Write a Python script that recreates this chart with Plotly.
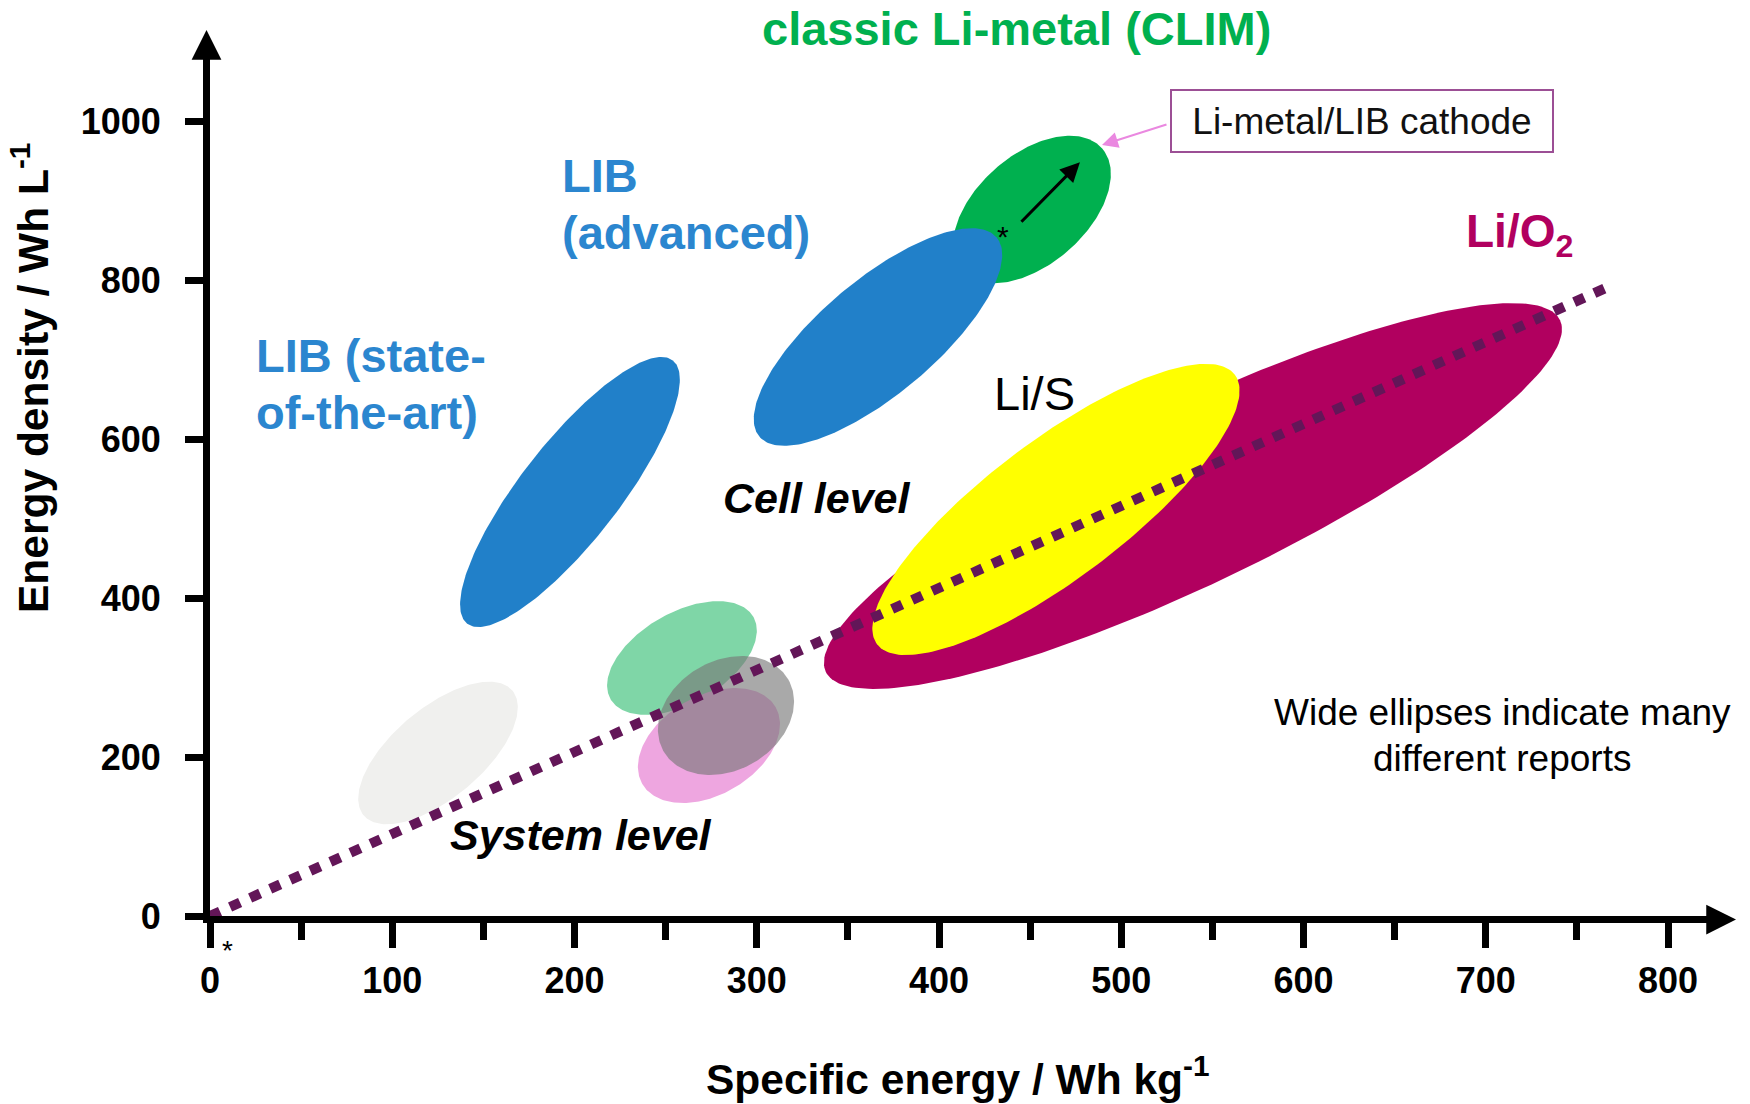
import numpy as np
import plotly.graph_objects as go

# ---------------- data ----------------
x_ticks = [0, 100, 200, 300, 400, 500, 600, 700, 800]          # specific energy / Wh kg-1
y_ticks = [0, 200, 400, 600, 800, 1000]                        # energy density / Wh L-1

# Performance regions (ellipses): ends of the long axis and width ratio
region_names = ["Li/O2 (cell)", "Li/S (cell)", "LIB state-of-the-art (cell)",
                "CLIM (cell)", "LIB advanced (cell)",
                "LIB (system)", "CLIM (system)", "Li/O2 (system)", "Li/S (system)"]
lo_energy = [337.9, 366.0, 141.1, 412.5, 301.4, 84.3, 219.8, 237.2, 248.9]
lo_density = [307.3, 342.1, 368.1, 812.7, 603.6, 126.7, 272.9, 166.2, 207.2]
hi_energy = [740.7, 562.3, 253.9, 489.5, 431.6, 165.9, 298.1, 310.3, 317.3]
hi_density = [750.2, 681.5, 699.5, 966.3, 854.3, 283.8, 376.7, 263.1, 297.7]
width_ratio = [0.216, 0.308, 0.295, 0.59, 0.37, 0.464, 0.55, 0.642, 0.761]

# dotted guide line
guide_energy = [0, 768.0]
guide_density = [0, 793.0]

# CLIM improvement arrow (from -> to)
clim_from_energy, clim_from_density = 444.4, 872.1
clim_to_energy, clim_to_density = 477.3, 948.9

# ---------------- styles ----------------
region_colors = ["#b1005f", "#ffff00", "#2180c9", "#00b04f", "#2180c9",
                 "#f0f0ee", "#7fd6a7", "#eea6e0", "rgba(118,118,118,0.63)"]
FONT = "Liberation Sans"
BLUE_TXT = "#2b86cf"

W, H = 1750, 1104
ML, MT, PW, PH = 210, 55, 1502, 861
X_RANGE = [0, 824.1]
Y_RANGE = [0, 1084.0]
kx = PW / (X_RANGE[1] - X_RANGE[0])
ky = PH / (Y_RANGE[1] - Y_RANGE[0])
LW = 7  # axis line width

fig = go.Figure()

t = np.linspace(0, 2 * np.pi, 241)
for name, le, ld, he, hd, r, col in zip(region_names, lo_energy, lo_density,
                                         hi_energy, hi_density, width_ratio, region_colors):
    cx, cy = (le + he) / 2, (ld + hd) / 2
    ux, uy = (he - le) / 2, (hd - ld) / 2
    Ux, Uy = ux * kx, uy * ky
    vx, vy = -r * Uy / kx, r * Ux / ky
    xs = cx + ux * np.cos(t) + vx * np.sin(t)
    ys = cy + uy * np.cos(t) + vy * np.sin(t)
    fig.add_trace(go.Scatter(x=xs, y=ys, mode="lines", fill="toself", fillcolor=col,
                             line=dict(width=0), name=name, hoverinfo="skip"))

fig.add_trace(go.Scatter(x=guide_energy, y=guide_density, mode="lines",
                         line=dict(color="#631658", width=10, dash="11px,11px"),
                         hoverinfo="skip"))

ann = []


def label(text, x, y, size, color="black", weight="normal", style="normal", xanchor="center",
          yshift=0, ref="x"):
    ann.append(dict(text=text, x=x, y=y, xref="x" if ref == "x" else "paper",
                    yref="y" if ref == "x" else "paper", showarrow=False,
                    xanchor=xanchor, yanchor="middle", yshift=yshift,
                    font=dict(family=FONT, size=size, color=color, weight=weight, style=style)))


def px2paper(px, py):
    return (px - ML) / PW, (MT + PH - py) / PH


tx, ty = px2paper(1016.5, 28)
label("classic Li-metal (CLIM)", tx, ty, 47, "#00b04f", "bold", ref="paper")
label("LIB", 192.0, 932.9, 47, BLUE_TXT, "bold", xanchor="left")
label("(advanced)", 192.0, 861.1, 47, BLUE_TXT, "bold", xanchor="left")
label("LIB (state-", 24.0, 706.3, 47, BLUE_TXT, "bold", xanchor="left")
label("of-the-art)", 24.0, 633.3, 47, BLUE_TXT, "bold", xanchor="left")
label("Li/S", 452.6, 658.4, 47)
label("Li/O<sub>2</sub>", 688.0, 858.0, 46, "#b1005f", "bold", xanchor="left")
label("Cell level", 332.8, 526.3, 43, weight="bold", style="italic")
label("System level", 203.6, 102.0, 43, weight="bold", style="italic")
label("Wide ellipses indicate many", 708.9, 256.8, 37)
label("different reports", 708.9, 197.7, 37)
label("*", clim_from_energy - 9.3, clim_from_density - 8.0, 30, yshift=-7)
sx, sy = px2paper(227, 944)
label("*", sx, sy, 28, yshift=-6, ref="paper")

# boxed label
ann.append(dict(text="Li-metal/LIB cathode", x=631.8, y=1000.9, xref="x", yref="y",
                showarrow=False, width=378, height=58, bordercolor="#9c4f95", borderwidth=2,
                bgcolor="white", font=dict(family=FONT, size=37, color="#111111")))
# pink pointer
ann.append(dict(text="", x=489.4, y=970.7, xref="x", yref="y", ax=66, ay=-21,
                showarrow=True, arrowhead=2, arrowsize=1.6, arrowwidth=2, arrowcolor="#ea88e0"))
# CLIM arrow
ann.append(dict(text="", x=clim_to_energy, y=clim_to_density, xref="x", yref="y",
                ax=clim_from_energy, ay=clim_from_density, axref="x", ayref="y",
                showarrow=True, arrowhead=2, arrowsize=1.3, arrowwidth=3, arrowcolor="black"))
# axis arrowheads (paper referenced so they may sit beyond the axis range)
ann.append(dict(text="", x=1 + 24 / PW, y=-(LW / 2) / PH, xref="paper", yref="paper", ax=-40, ay=0,
                showarrow=True, arrowhead=2, arrowsize=0.85, arrowwidth=LW, arrowcolor="black"))
ann.append(dict(text="", x=-(LW / 2) / PW, y=1 + 25 / PH, xref="paper", yref="paper", ax=0, ay=40,
                showarrow=True, arrowhead=2, arrowsize=0.85, arrowwidth=LW, arrowcolor="black"))

# axis titles
yx, yy = px2paper(30, 378)
ann.append(dict(text="Energy density / Wh L<sup>-1</sup>", x=yx, y=yy,
                xref="paper", yref="paper", showarrow=False, textangle=-90,
                xanchor="center", yanchor="middle",
                font=dict(family=FONT, size=42.5, color="black", weight="bold")))
xx, xy = px2paper(958, 1076)
ann.append(dict(text="Specific energy / Wh kg<sup>-1</sup>", x=xx, y=xy,
                xref="paper", yref="paper", showarrow=False, xanchor="center", yanchor="middle",
                font=dict(family=FONT, size=42.5, color="black", weight="bold")))

tickfont = dict(family=FONT, size=36, color="black", weight="bold")
fig.update_xaxes(range=X_RANGE, tickvals=x_ticks, ticktext=[str(v) for v in x_ticks],
                 showline=True, linewidth=LW, linecolor="black", ticks="outside", ticklen=25,
                 tickwidth=7, tickcolor="black", showgrid=False, zeroline=False, tickfont=tickfont,
                 ticklabelstandoff=2,
                 minor=dict(tickvals=[50, 150, 250, 350, 450, 550, 650, 750], ticks="outside",
                            ticklen=17, tickwidth=7, tickcolor="black"))
fig.update_yaxes(range=Y_RANGE, tickvals=y_ticks, ticktext=[str(v) for v in y_ticks],
                 showline=True, linewidth=LW, linecolor="black", ticks="outside", ticklen=18,
                 tickwidth=7, tickcolor="black", showgrid=False, zeroline=False, tickfont=tickfont,
                 ticklabelstandoff=17)

fig.update_layout(width=W, height=H, margin=dict(l=ML, r=W - ML - PW, t=MT, b=H - MT - PH),
                  plot_bgcolor="white", paper_bgcolor="white", showlegend=False, annotations=ann)

fig.write_html("out.html", config={"displayModeBar": False},
               post_script="document.body.style.margin='0';")
